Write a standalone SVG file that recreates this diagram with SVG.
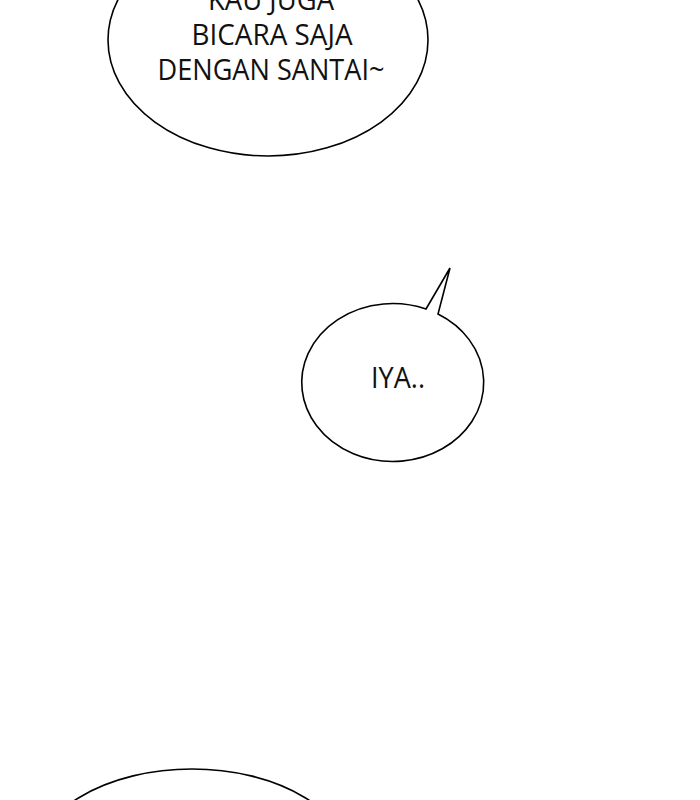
<svg xmlns="http://www.w3.org/2000/svg" width="700" height="800" viewBox="0 0 700 800">
<style>
.b{fill:#fff;stroke:#000;stroke-width:1.6}
.t{font-family:"Open Sans","Liberation Sans",sans-serif;font-size:29px;fill:#111;text-anchor:middle}
</style>
<rect width="700" height="800" fill="#fff"/>
<g id="bubble-top">
<ellipse class="b" cx="268" cy="40" rx="160" ry="116"/>
<text class="t" x="271" y="10" textLength="126" lengthAdjust="spacingAndGlyphs">KAU JUGA</text>
<text class="t" x="272" y="45" textLength="161" lengthAdjust="spacingAndGlyphs">BICARA SAJA</text>
<text class="t" x="271" y="80" textLength="227" lengthAdjust="spacingAndGlyphs">DENGAN SANTAI~</text>
</g>
<g id="bubble-mid">
<path class="b" d="M426,309 L450,268 L438,314 A91,79 0 1 1 426,309 Z"/>
<text class="t" x="398" y="388" textLength="54" lengthAdjust="spacingAndGlyphs">IYA..</text>
</g>
<g id="bubble-bottom">
<ellipse class="b" cx="192" cy="867" rx="160" ry="98"/>
</g>
</svg>
